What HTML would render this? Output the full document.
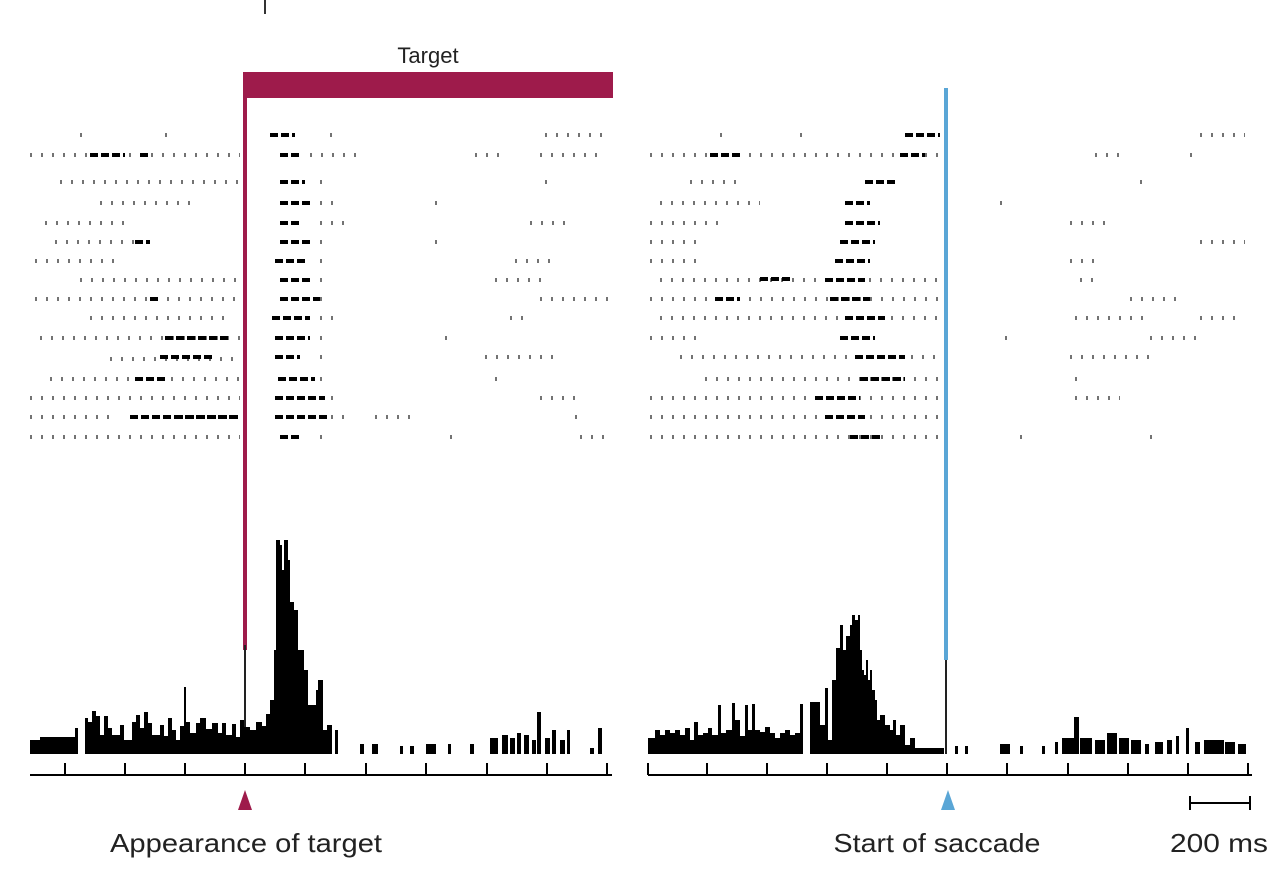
<!DOCTYPE html>
<html><head><meta charset="utf-8"><style>
html,body{margin:0;padding:0;background:#fff;}
svg{display:block;}
text{font-family:"Liberation Sans",sans-serif;fill:#222;}
</style></head><body>
<svg width="1285" height="882" viewBox="0 0 1285 882">
<rect x="264" y="0" width="2" height="14" fill="#333"/>
<text x="428" y="63" font-size="22" text-anchor="middle">Target</text>
<rect x="245" y="72" width="368" height="26" fill="#9e1b4b"/>
<g stroke="#000" stroke-width="4" fill="none">
<g stroke-dasharray="2 9" opacity="0.55">
<path d="M80 135H90M165 135H170M30 155H240M60 182H240M100 203H190M45 223H130M55 242H140M35 261H120M80 280H240M35 299H240M90 318H230M40 338H240M110 359H240M50 379H240M30 398H240M30 417H110M30 437H240"/>
<path d="M330 135H340M545 135H610M310 155H360M475 155H500M540 155H600M320 182H330M545 182H555M320 203H340M435 203H440M320 223H350M530 223H570M320 242H330M435 242H440M320 261H330M515 261H550M320 280H330M495 280H550M320 299H330M540 299H610M320 318H340M510 318H530M320 338H330M445 338H450M320 357H330M485 357H560M320 379H330M495 379H500M320 398H340M540 398H580M320 417H350M375 417H410M575 417H580M320 437H330M450 437H455M580 437H610"/>
</g>
<g stroke-dasharray="8 3" stroke-width="4">
<path d="M90 155H125M140 155H150M135 242H150M150 299H160M160 357H215M135 379H165M130 417H230M175 417H240M165 338H230"/>
<path d="M270 135H295M280 155H300M280 182H305M280 203H310M280 223H300M280 242H310M275 261H305M280 280H310M280 299H320M272 318H310M275 338H310M275 357H300M278 379H315M275 398H325M275 417H330M280 437H300"/>
</g>
</g>
<g stroke="#000" stroke-width="4" fill="none">
<g stroke-dasharray="2 9" opacity="0.55">
<path d="M720 135H730M800 135H810M650 155H940M690 182H740M660 203H760M650 223H720M650 242H700M650 261H700M660 280H940M650 299H940M660 318H940M650 338H700M680 357H940M705 379H940M650 398H940M650 417H940M650 437H940"/>
<path d="M1000 203H1005M1070 223H1110M1200 242H1245M1070 261H1100M1080 280H1100M1130 299H1180M1075 318H1150M1200 318H1240M1005 338H1010M1150 338H1200M1070 357H1150M1075 379H1085M1075 398H1120M1020 437H1030M1150 437H1160M1095 155H1125M1190 155H1200M1200 135H1245M1140 182H1145"/>
</g>
<g stroke-dasharray="8 3">
<path d="M905 135H940M710 155H740M900 155H925M865 182H895M845 203H870M845 223H880M840 242H875M835 261H870M825 280H865M830 299H870M845 318H885M840 338H875M855 357H905M860 379H905M815 398H860M825 417H865M850 437H880M715 299H740M760 279H790"/>
</g>
</g>
<rect x="243" y="72" width="4" height="578" fill="#9e1b4b"/>
<rect x="944" y="88" width="4" height="572" fill="#5aa6d6"/>
<rect x="945" y="660" width="2" height="94" fill="#222"/>
<rect x="244" y="645" width="2" height="109" fill="#222"/>
<path fill="#000" d="M30 754V740H40V737H75V728H78V754H85V718H88V722H92V711H96V716H100V735H104V716H108V728H112V735H120V725H124V740H132V722H136V715H140V728H144V712H148V723H152V735H160V725H164V736H168V718H172V730H176V740H180V726H184V687H186V722H190V733H196V723H200V718H206V729H212V723H218V733H222V723H226V735H232V724H236V737H240V720H244V727H250V730H256V722H262V726H266V714H270V700H274V650H276V540H280V545H282V570H284V540H288V560H290V602H294V610H298V650H304V670H308V705H316V690H318V680H323V730H327V725H332V754Z"/>
<g fill="#000">
<rect x="335" y="730" width="3" height="24"/><rect x="360" y="744" width="4" height="10"/><rect x="372" y="744" width="6" height="10"/><rect x="400" y="746" width="3" height="8"/><rect x="410" y="746" width="4" height="8"/><rect x="426" y="744" width="10" height="10"/><rect x="448" y="744" width="3" height="10"/><rect x="470" y="744" width="4" height="10"/><rect x="490" y="738" width="8" height="16"/><rect x="502" y="735" width="6" height="19"/><rect x="510" y="738" width="5" height="16"/><rect x="517" y="733" width="4" height="21"/><rect x="524" y="735" width="5" height="19"/><rect x="532" y="740" width="4" height="14"/><rect x="537" y="712" width="4" height="42"/><rect x="545" y="738" width="5" height="16"/><rect x="552" y="730" width="4" height="24"/><rect x="560" y="740" width="5" height="14"/><rect x="567" y="730" width="3" height="24"/><rect x="590" y="748" width="4" height="6"/><rect x="598" y="728" width="4" height="26"/>
</g>
<path fill="#000" d="M648 754V738H655V730H660V735H665V730H670V733H675V730H680V735H685V728H690V740H694V722H698V735H703V733H708V728H712V735H718V705H721V733H726V730H732V703H735V720H740V736H745V705H748V730H752V704H755V730H760V732H765V727H770V733H775V738H780V733H785V730H790V735H795V733H800V704H803V754H810V702H820V725H825V688H828V740H832V680H836V648H840V625H843V650H846V636H850V625H852V615H855V620H858V615H860V650H862V670H864V675H866V660H868V680H870V670H872V690H875V700H877V720H880V715H885V725H890V730H893V720H896V735H900V725H905V745H910V738H915V748H944V754Z"/>
<g fill="#000">
<rect x="955" y="746" width="3" height="8"/><rect x="965" y="746" width="3" height="8"/><rect x="1000" y="744" width="10" height="10"/><rect x="1020" y="746" width="3" height="8"/><rect x="1042" y="746" width="3" height="8"/><rect x="1055" y="742" width="3" height="12"/><rect x="1062" y="738" width="12" height="16"/><rect x="1074" y="717" width="5" height="37"/><rect x="1080" y="738" width="12" height="16"/><rect x="1095" y="740" width="10" height="14"/><rect x="1107" y="733" width="10" height="21"/><rect x="1119" y="738" width="10" height="16"/><rect x="1131" y="740" width="10" height="14"/><rect x="1145" y="744" width="4" height="10"/><rect x="1155" y="742" width="8" height="12"/><rect x="1167" y="740" width="5" height="14"/><rect x="1176" y="736" width="3" height="18"/><rect x="1186" y="728" width="3" height="26"/><rect x="1195" y="742" width="5" height="12"/><rect x="1204" y="740" width="20" height="14"/><rect x="1225" y="742" width="10" height="12"/><rect x="1238" y="744" width="8" height="10"/>
</g>
<g stroke="#000" stroke-width="2" fill="none">
<path d="M30 775H612M648 775H1252"/>
<path d="M65 763V775M125 763V775M185 763V775M245 763V775M305 763V775M366 763V775M426 763V775M487 763V775M547 763V775M607 763V775"/>
<path d="M648 763V775M707 763V775M767 763V775M827 763V775M887 763V775M947 763V775M1007 763V775M1068 763V775M1128 763V775M1188 763V775M1248 763V775"/>
<path d="M1190 803H1250M1190 796V810M1250 796V810"/>
</g>
<polygon points="245,790 238,810 252,810" fill="#9e1b4b"/>
<polygon points="948,790 941,810 955,810" fill="#5aa6d6"/>
<text x="246" y="852" font-size="26" text-anchor="middle" textLength="272" lengthAdjust="spacingAndGlyphs">Appearance of target</text>
<text x="937" y="852" font-size="26" text-anchor="middle" textLength="207" lengthAdjust="spacingAndGlyphs">Start of saccade</text>
<text x="1219" y="852" font-size="26" text-anchor="middle" textLength="98" lengthAdjust="spacingAndGlyphs">200 ms</text>
</svg>
</body></html>
